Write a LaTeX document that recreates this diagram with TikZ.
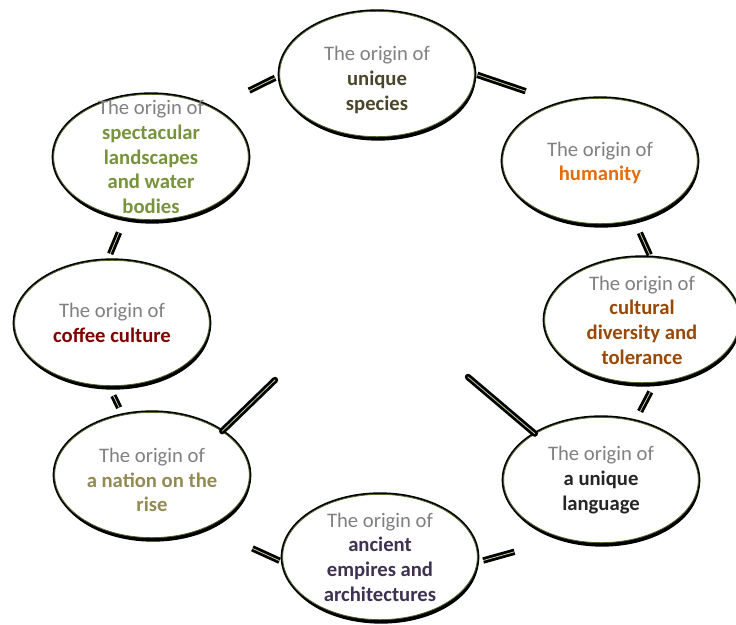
\documentclass[tikz,border=0pt]{standalone}
\usepackage{fontspec}
\setmainfont{Carlito}
\usetikzlibrary{shapes.geometric,shadows}
\definecolor{ringline}{HTML}{4F6228}
\definecolor{linkfill}{HTML}{C4D79B}
\definecolor{origingray}{HTML}{808080}
\definecolor{speciescol}{HTML}{4A452A}
\definecolor{landcol}{HTML}{77933C}
\definecolor{humancol}{HTML}{E46C0A}
\definecolor{culturecol}{HTML}{984807}
\definecolor{langcol}{HTML}{262626}
\definecolor{empirecol}{HTML}{3F3151}
\definecolor{nationcol}{HTML}{948A54}
\definecolor{coffeecol}{HTML}{7F0000}
\begin{document}
\begin{tikzpicture}[x=0.75pt, y=-0.75pt,
    blob/.style={ellipse, draw=ringline, line width=0.6pt, fill=white,
      minimum width=146pt, minimum height=94pt, inner sep=0pt,
      drop shadow={shadow xshift=0.8pt, shadow yshift=-3pt, fill=black, opacity=1},
      preaction={draw=black, line width=3pt}},
    txt/.style={align=center, font=\fontsize{15.5}{18.5}\selectfont, text=origingray},
    link/.style={draw=black, line width=2.1pt, double=linkfill, double distance=0.6pt}]
  \useasboundingbox (0,0) rectangle (736,625);
  % free ends of the two diagonals
  \coordinate (hubL) at (275,380);
  \coordinate (hubR) at (468,377);
  % the eight ellipses
  \node[blob] (landscapes) at (151,157) {};
  \node[blob] (species) at (377,74) {};
  \node[blob] (humanity) at (600,161) {};
  \node[blob] (cultural) at (642,320) {};
  \node[blob] (language) at (601,480) {};
  \node[blob] (empires) at (380,557) {};
  \node[blob] (nation) at (152,475) {};
  \node[blob] (coffee) at (112,323) {};
  % connectors round the ring
  \draw[link, shorten >=28pt, shorten <=2pt] (species.east) -- (humanity.124);
  \draw[link, shorten >=2pt, shorten <=10.5pt] (humanity.-60) -- (cultural.82);
  \draw[link, shorten >=8pt, shorten <=8pt] (cultural.-78) -- (language.60);
  \draw[link, shorten >=4.5pt, shorten <=38pt] (language.-123) -- (empires.-3);
  \draw[link, shorten >=38pt, shorten <=2.5pt] (empires.183) -- (nation.-44);
  \draw[link, shorten >=8pt, shorten <=6pt] (nation.116) -- (coffee.-93);
  \draw[link, shorten >=12pt, shorten <=5pt] (coffee.94) -- (landscapes.-113);
  \draw[link, shorten >=3.5pt, shorten <=30pt] (landscapes.38) -- (species.181);
  \draw[link, line cap=round] (nation.32) -- (hubL);
  \draw[link, line cap=round] (language.145) -- (hubR);
  % texts
  \node[txt] (landscapes-t) at (landscapes) {The origin of\\
    \textcolor{landcol}{\textbf{spectacular}}\\
    \textcolor{landcol}{\textbf{landscapes}}\\
    \textcolor{landcol}{\textbf{and water}}\\
    \textcolor{landcol}{\textbf{bodies}}};
  \node[txt] (species-t) at (377,80) {The origin of\\
    \textcolor{speciescol}{\textbf{unique}}\\
    \textcolor{speciescol}{\textbf{species}}};
  \node[txt] (humanity-t) at (600,163) {The origin of\\
    \textcolor{humancol}{\textbf{humanity}}};
  \node[txt] (cultural-t) at (cultural) {The origin of\\
    \textcolor{culturecol}{\textbf{cultural}}\\
    \textcolor{culturecol}{\textbf{diversity and}}\\
    \textcolor{culturecol}{\textbf{tolerance}}};
  \node[txt] (language-t) at (language) {The origin of\\
    \textcolor{langcol}{\textbf{a unique}}\\
    \textcolor{langcol}{\textbf{language}}};
  \node[txt] (empires-t) at (empires) {The origin of\\
    \textcolor{empirecol}{\textbf{ancient}}\\
    \textcolor{empirecol}{\textbf{empires and}}\\
    \textcolor{empirecol}{\textbf{architectures}}};
  \node[txt] (nation-t) at (152,480) {The origin of\\
    \textcolor{nationcol}{\textbf{a nation on the}}\\
    \textcolor{nationcol}{\textbf{rise}}};
  \node[txt] (coffee-t) at (coffee) {The origin of\\
    \textcolor{coffeecol}{\textbf{coffee culture}}};
\end{tikzpicture}
\end{document}
